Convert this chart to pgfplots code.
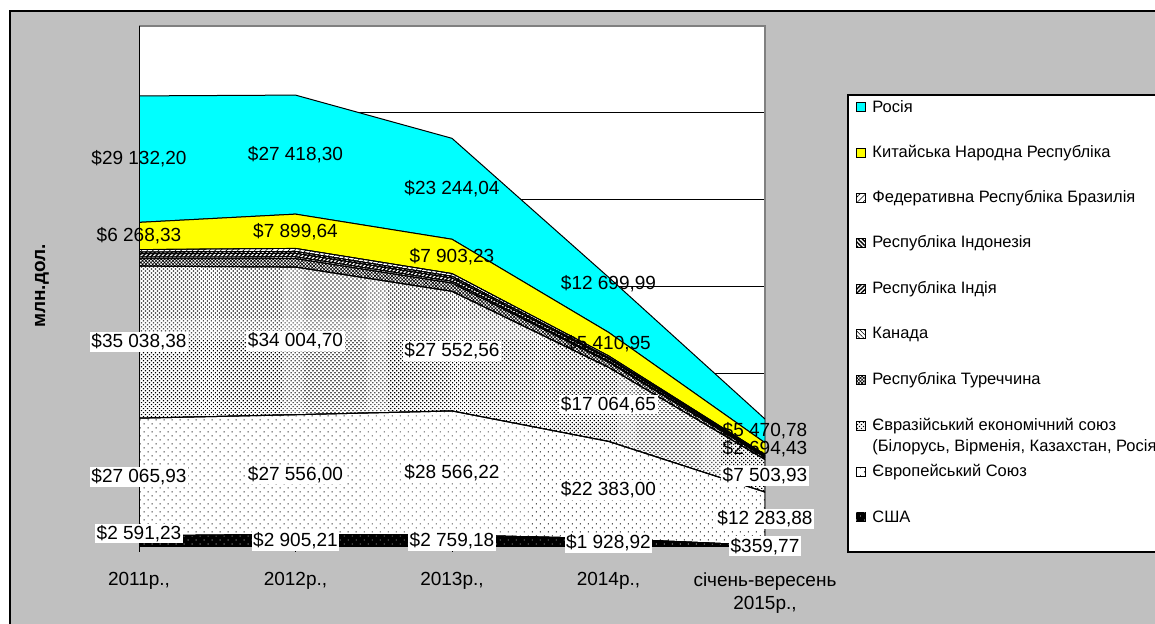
\documentclass[border=0pt]{standalone}
\usepackage{fontspec}
\setmainfont{Liberation Sans}
\usepackage{pgfplots}
\pgfplotsset{compat=1.18}
\usepackage{pgfplotstable}
\usetikzlibrary{patterns.meta}

\definecolor{bggray}{HTML}{C0C0C0}
\definecolor{rucyan}{HTML}{00FFFF}
\definecolor{cnyellow}{HTML}{FFFF00}
\definecolor{frgray}{HTML}{808080}

\newcommand{\lblfont}{\fontsize{9.5}{11.5}\selectfont}
\newcommand{\legfont}{\fontsize{8.25}{10}\selectfont}

% columns: USA, EU, EAEU, Turkey, Canada, India, Indonesia, Brazil, China, Russia
% usaoff / rusoff: label offsets (data units)
\pgfplotstableread{
x usa eu eaeu tur can ind idn bra chn rus usaoff rusoff
0 2591.23 27065.93 35038.38 1700 380 760 400 560 6268.33 29132.20 1844 0
1 2905.21 27556.00 34004.70 1950 420 800 450 680 7899.64 27418.30 0 0
2 2759.18 28566.22 27552.56 1900 400 750 430 620 7903.23 23244.04 0 0
3 1928.92 22383.00 17064.65 1200 260 500 300 400 5410.95 12699.99 0 4840
4 359.77 12283.88 7503.93 450 110 250 150 200 2694.43 5470.78 0 0
}\data

\tikzset{
 patUSA/.style={fill=black, postaction={pattern={Dots[distance=2.83pt, angle=45, radius=0.3pt]}, pattern color=white}},
 patEU/.style={fill=white, postaction={pattern={Dots[distance=2.83pt, angle=45, radius=0.32pt]}, pattern color=black}},
 patEAEU/.style={fill=white, postaction={pattern={Dots[distance=1.41pt, angle=45, radius=0.42pt]}, pattern color=black}},
 patTUR/.style={fill=white, postaction={pattern={Hatch[distance=1.2pt, angle=45, line width=0.3pt]}, pattern color=black}},
 patCAN/.style={fill=white, postaction={pattern={Lines[distance=1.5pt, angle=-45, line width=0.3pt]}, pattern color=black}},
 patIND/.style={fill=white, postaction={pattern={Lines[distance=1.5pt, angle=45, line width=0.7pt]}, pattern color=black}},
 patIDN/.style={fill=white, postaction={pattern={Lines[distance=1.5pt, angle=-45, line width=0.7pt]}, pattern color=black}},
 patBRA/.style={fill=white, postaction={pattern={Lines[distance=2pt, angle=45, line width=0.3pt]}, pattern color=black}},
}

\pgfplotsset{
 base/.style={
  at={(69.5pt,38.5pt)}, anchor=south west,
  scale only axis, width=313pt, height=260.5pt,
  xmin=0, xmax=4, ymin=0, ymax=120000,
  scaled y ticks=false,
 },
}

\begin{document}
\begin{tikzpicture}
\path[use as bounding box, clip] (0,0) rectangle (577.5pt,312pt);
\fill[white] (0,0) rectangle (577.5pt,312pt);
\begin{scope}[x=0.5pt,y=0.5pt]
 \filldraw[fill=bggray, draw=black, line width=0.7pt] (10,-20) rectangle (1180,613);
 \fill[white] (139,77) rectangle (765,598);
 % horizontal gridlines (every 20 000)
 \foreach \k in {1,...,5} {\draw[black, line width=0.5pt] (139,{77+\k*86.833}) -- (765,{77+\k*86.833});}
 \draw[frgray, line width=0.7pt] (139,598) -- (765,598) -- (765,77);
\end{scope}

% stacked areas
\begin{axis}[base,
  stack plots=y, area style,
  axis x line*=bottom, axis y line*=left,
  axis line style={black, line width=0.5pt, -},
  ytick=\empty,
  xtick={0,1,2,3,4},
  xticklabels={{2011р.,},{2012р.,},{2013р.,},{2014р.,},{січень-вересень\\2015р.,}},
  xtick style={black, line width=0.5pt},
  tick align=outside, major tick length=2.5pt,
  xticklabel style={font=\lblfont, align=center, anchor=north, inner sep=0pt, yshift=-10pt},
]
\addplot[draw=black, line width=0.5pt, patUSA] table[x=x,y=usa]{\data} \closedcycle;
\addplot[draw=black, line width=0.5pt, patEU] table[x=x,y=eu]{\data} \closedcycle;
\addplot[draw=black, line width=0.5pt, patEAEU] table[x=x,y=eaeu]{\data} \closedcycle;
\addplot[draw=black, line width=0.4pt, patTUR] table[x=x,y=tur]{\data} \closedcycle;
\addplot[draw=black, line width=0.4pt, patCAN] table[x=x,y=can]{\data} \closedcycle;
\addplot[draw=black, line width=0.4pt, patIND] table[x=x,y=ind]{\data} \closedcycle;
\addplot[draw=black, line width=0.4pt, patIDN] table[x=x,y=idn]{\data} \closedcycle;
\addplot[draw=black, line width=0.4pt, patBRA] table[x=x,y=bra]{\data} \closedcycle;
\addplot[draw=black, line width=0.5pt, fill=cnyellow] table[x=x,y=chn]{\data} \closedcycle;
\addplot[draw=black, line width=0.5pt, fill=rucyan] table[x=x,y=rus]{\data} \closedcycle;
\end{axis}

% data labels
\begin{axis}[base, hide axis, clip=false,
  nodes near coords={\$\pgfmathprintnumber[assume math mode=true, fixed, fixed zerofill, precision=2, use comma, 1000 sep={\ }]{\pgfplotspointmeta}},
  point meta=explicit,
  every node near coord/.append style={anchor=center, font=\lblfont, inner sep=0.8pt, text=black},
]
\addplot[draw=none, mark=none, every node near coord/.append style={fill=white}]
  table[x=x, y expr={0.5*\thisrow{usa}+\thisrow{usaoff}}, meta=usa]{\data};
\addplot[draw=none, mark=none, every node near coord/.append style={fill=white}]
  table[x=x, y expr={\thisrow{usa}+0.5*\thisrow{eu}}, meta=eu]{\data};
\addplot[draw=none, mark=none, every node near coord/.append style={fill=white}]
  table[x=x, y expr={\thisrow{usa}+\thisrow{eu}+0.5*\thisrow{eaeu}}, meta=eaeu]{\data};
\addplot[draw=none, mark=none]
  table[x=x, y expr={\thisrow{usa}+\thisrow{eu}+\thisrow{eaeu}+\thisrow{tur}+\thisrow{can}+\thisrow{ind}+\thisrow{idn}+\thisrow{bra}+0.5*\thisrow{chn}}, meta=chn]{\data};
\addplot[draw=none, mark=none]
  table[x=x, y expr={\thisrow{usa}+\thisrow{eu}+\thisrow{eaeu}+\thisrow{tur}+\thisrow{can}+\thisrow{ind}+\thisrow{idn}+\thisrow{bra}+\thisrow{chn}+0.5*\thisrow{rus}+\thisrow{rusoff}}, meta=rus]{\data};
\end{axis}

\begin{scope}[x=0.5pt,y=0.5pt]
 % y label
 \node[rotate=90, font=\bfseries\fontsize{9.5}{11}\selectfont] at (42,338) {млн.дол.};
 % legend
 \filldraw[fill=white, draw=black, line width=0.6pt] (848,72) rectangle (1180,529);
 \def\legsq#1#2{\filldraw[#1, draw=black, line width=0.4pt] (856,#2-4.5) rectangle (865,#2+4.5);}
 \legsq{fill=rucyan}{517}
 \legsq{fill=cnyellow}{471}
 \legsq{patBRA}{426}
 \legsq{patIDN}{381}
 \legsq{patIND}{335}
 \legsq{patCAN}{290}
 \legsq{patTUR}{244}
 \legsq{patEAEU}{198}
 \legsq{patEU}{152}
 \legsq{patUSA}{107}
 \begin{scope}[every node/.style={anchor=west, font=\legfont, inner sep=0pt}]
 \node at (872,517) {Росія};
 \node at (872,471) {Китайська Народна Республіка};
 \node at (872,426) {Федеративна Республіка Бразилія};
 \node at (872,381) {Республіка Індонезія};
 \node at (872,335) {Республіка Індія};
 \node at (872,290) {Канада};
 \node at (872,244) {Республіка Туреччина};
 \node at (872,198) {Євразійський економічний союз};
 \node at (872,177) {(Білорусь, Вірменія, Казахстан, Росія)};
 \node at (872,152) {Європейський Союз};
 \node at (872,107) {США};
 \end{scope}
\end{scope}
\end{tikzpicture}
\end{document}
